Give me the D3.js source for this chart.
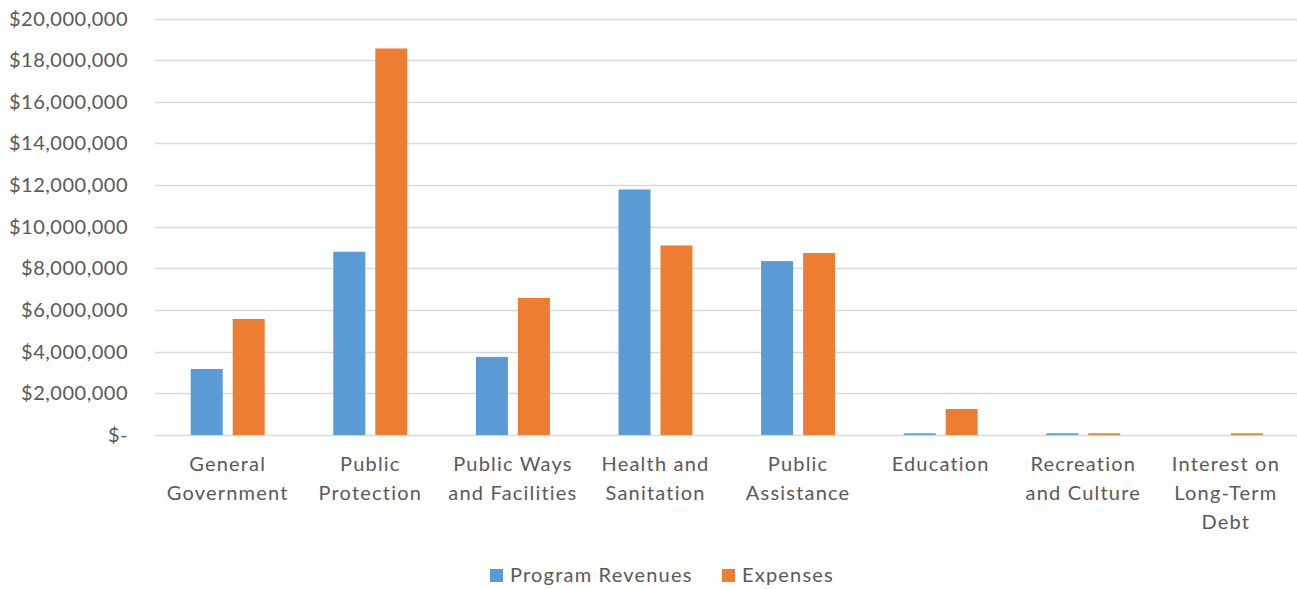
<!DOCTYPE html>
<html><head><meta charset="utf-8">
<script src="https://cdn.jsdelivr.net/npm/d3@7"></script>
<style>body{margin:0;background:#fff}svg{display:block}text{font-family:Lato,"Open Sans",sans-serif;fill:#595959}</style>
</head><body><svg id="c" width="1297" height="589"></svg>
<script>
const categories = [["General","Government"],["Public","Protection"],["Public Ways","and Facilities"],["Health and","Sanitation"],["Public","Assistance"],["Education"],["Recreation","and Culture"],["Interest on","Long-Term","Debt"]];
const seriesNames = ["Program Revenues","Expenses"];
const revenues = [3170000, 8800000, 3750000, 11790000, 8350000, 80000, 80000, 0];
const expenses = [5570000, 18560000, 6580000, 9100000, 8740000, 1250000, 80000, 80000];
const yTicks = [0,2000000,4000000,6000000,8000000,10000000,12000000,14000000,16000000,18000000,20000000];
const colors = ["#5B9BD5","#ED7D31"];

const svg = d3.select("#c");
const pLeft = 156.4, pRight = 1297.2, pTop = 18.5, pBottom = 435;
const idx = d3.range(categories.length);
const x0 = d3.scaleBand().domain(idx).range([pLeft,pRight]).paddingInner(0).paddingOuter(0);
const y = d3.scaleLinear().domain([0,20000000]).range([pBottom,pTop]);
const barW = 32, gap = 10;
const x1 = d3.scaleOrdinal().domain([0,1]).range([-(gap/2+barW), gap/2]);

const fmt = v => v===0 ? "$-" : "$" + d3.format(",")(v);
svg.append("g").selectAll("line").data(yTicks).join("line")
  .attr("x1",155).attr("x2",1297).attr("y1",d=>Math.round(y(d))+0.5).attr("y2",d=>Math.round(y(d))+0.5)
  .attr("stroke","#D9D9D9").attr("stroke-width",1.5);
svg.append("g").selectAll("text").data(yTicks).join("text")
  .attr("x",128).attr("y",d=>y(d)+7).attr("text-anchor","end").attr("font-size","20px")
  .attr("letter-spacing","0.5px")
  .text(fmt);
const series = [revenues, expenses];
series.forEach((vals,si)=>{
  svg.append("g").selectAll("rect").data(vals).join("rect")
    .attr("x",(d,i)=>x0(i)+x0.bandwidth()/2 + x1(si))
    .attr("width",barW)
    .attr("y",d=>y(d)).attr("height",d=>pBottom-y(d))
    .attr("fill",colors[si]);
});
const cg = svg.append("g");
categories.forEach((lines,i)=>{
  const t = cg.append("text").attr("text-anchor","middle").attr("font-size","20px").attr("letter-spacing","1.2px");
  lines.forEach((ln,j)=>{
    t.append("tspan").attr("x",x0(i)+x0.bandwidth()/2).attr("y",471+j*29).text(ln);
  });
});
const leg = svg.append("g");
const legItems = [{x:490,name:seriesNames[0],c:colors[0]},{x:722,name:seriesNames[1],c:colors[1]}];
legItems.forEach(it=>{
  leg.append("rect").attr("x",it.x).attr("y",569).attr("width",13).attr("height",13).attr("fill",it.c);
  leg.append("text").attr("x",it.x+20).attr("y",582).attr("font-size","20px").attr("letter-spacing","1.2px").text(it.name);
});
</script></body></html>
